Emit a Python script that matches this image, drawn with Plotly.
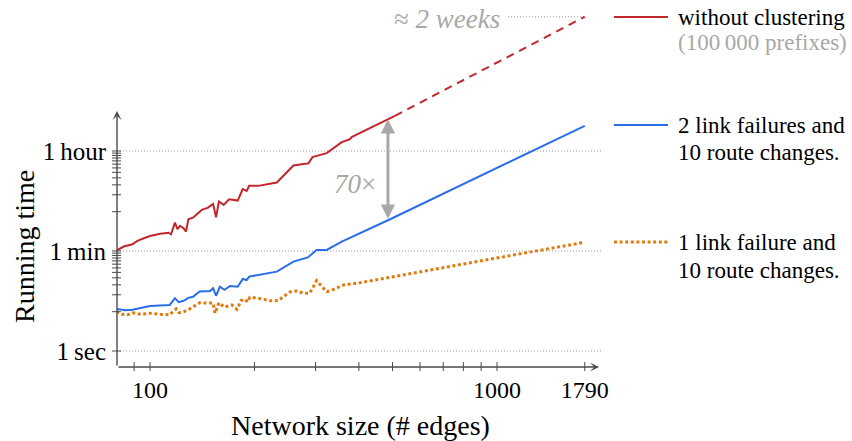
import numpy as np
import plotly.graph_objects as go

# ---------------- data ----------------
edges_red = [80, 84, 89, 92, 96, 100, 107, 113, 115, 118, 120, 122, 125, 127, 129, 133, 141, 147,
             152, 155, 158, 163, 169, 179, 185, 190, 193, 205, 232, 259, 280, 286, 294, 323, 357,
             377, 381, 508]
time_red = [61, 72, 79, 91, 101, 111, 121, 127, 119, 192, 146, 168, 152, 133, 220, 235, 323, 355,
            413, 239, 454, 396, 500, 472, 754, 703, 863, 863, 988, 1983, 2125, 2180, 2797, 3296, 5170,
            5848, 6345, 15180]
edges_red_extrap = [508, 1790]
time_red_extrap = [15180, 877000]

edges_blue = [80, 85, 89, 100, 114, 118, 121, 125, 129, 133, 139, 149, 152, 155, 159, 164, 170, 179,
              185, 190, 193, 232, 259, 285, 302, 323, 357, 403, 492, 1790]
time_blue = [5.6, 5.3, 5.4, 6.3, 6.6, 8.7, 7.4, 7.8, 8.8, 9.2, 11.4, 11.7, 13.1, 9.6, 13.9, 12.2, 14.3,
             13.9, 19.1, 18.3, 21, 25.8, 38.8, 46.1, 62.7, 62.7, 88, 124, 220, 10090]

edges_orange = [80, 83, 86, 89, 94, 100, 107, 114, 117, 119, 121, 125, 129, 136, 139, 152, 154, 156,
                158, 164, 172, 178, 183, 188, 191, 194, 205, 222, 234, 253, 265, 277, 288, 293, 302,
                316, 323, 330, 361, 394, 1790]
time_orange = [5.0, 4.5, 4.4, 4.8, 4.5, 4.7, 4.5, 4.4, 5.2, 5.6, 4.8, 5.0, 5.4, 6.6, 7.2, 7.1, 4.7, 5.8,
               7.2, 6.0, 6.6, 5.5, 7.9, 8.3, 7.4, 9.0, 8.7, 7.8, 7.9, 11.2, 11.7, 10.6, 10.6, 12.5,
               17.8, 13.1, 11.4, 11.7, 14.9, 16.0, 86]

y_major_vals = [1, 60, 3600]
y_major_text = ["1\u2009sec", "1\u2009min", "1\u2009hour"]
y_minor_vals = [5, 10, 15, 20, 25, 30, 35, 40, 45, 50, 55,
                300, 600, 900, 1200, 1500, 1800, 2100, 2400, 2700, 3000, 3300]
x_major_vals = [100, 1000, 1790]
x_major_text = ["100", "1000", "1790"]
x_minor_vals = [90, 200, 300, 400, 500, 600, 700, 800, 900]

two_weeks_from = 1076          # start of the "≈ 2 weeks" reference line (edges)
arrow_at_edges = 485           # where the 70x arrow is drawn

legend_labels = [
    ("without clustering", "(100\u2009000 prefixes)"),
    ("2 link failures and", "10 route changes."),
    ("1 link failure and", "10 route changes."),
]

# ---------------- style ----------------
RED = "#c1272d"
BLUE = "#2b6de9"
ORANGE = "#e07b10"
GREY = "#a8a8a8"
AXIS = "#4a4a4a"
FONT = "'Liberation Serif', 'DejaVu Serif', serif"

W, H = 852, 441
L, R, T, B = 117, 252, 5, 74
PW, PH = W - L - R, H - T - B


def px_x(px):
    return (px - L) / PW


def px_y(py):
    return (H - B - py) / PH


fig = go.Figure()

fig.add_trace(go.Scatter(x=edges_orange, y=time_orange, mode="lines",
                         line=dict(color=ORANGE, width=3, dash="3px,2.6px"), showlegend=False))
fig.add_trace(go.Scatter(x=edges_blue, y=time_blue, mode="lines",
                         line=dict(color=BLUE, width=2), showlegend=False))
fig.add_trace(go.Scatter(x=edges_red, y=time_red, mode="lines",
                         line=dict(color=RED, width=2), showlegend=False))
fig.add_trace(go.Scatter(x=edges_red_extrap, y=time_red_extrap, mode="lines",
                         line=dict(color=RED, width=2, dash="8px,6px"), showlegend=False))

shapes = []
# grid lines
for v in y_major_vals:
    shapes.append(dict(type="line", xref="paper", x0=0, x1=1.005, yref="y", y0=v, y1=v,
                       line=dict(color="#9a9a9a", width=1, dash="1px,2px"), layer="below"))
# 2 weeks reference line
shapes.append(dict(type="line", xref="x", x0=two_weeks_from, x1=edges_red_extrap[-1], yref="y",
                   y0=time_red_extrap[-1], y1=time_red_extrap[-1],
                   line=dict(color="#9a9a9a", width=1, dash="1px,2px"), layer="below"))
# ticks crossing the axes
for v in y_major_vals + y_minor_vals:
    shapes.append(dict(type="line", xref="paper", x0=-5 / PW, x1=4 / PW, yref="y", y0=v, y1=v,
                       line=dict(color=AXIS, width=1)))
for v in x_major_vals + x_minor_vals:
    shapes.append(dict(type="line", xref="x", x0=v, x1=v, yref="paper", y0=-4 / PH, y1=5 / PH,
                       line=dict(color=AXIS, width=1)))

annotations = []
# axis lines with arrow heads
annotations.append(dict(xref="paper", yref="paper", x=px_x(599), y=0, ax=-(599 - L), ay=0,
                        text="", showarrow=True, arrowhead=3, arrowsize=1.1, arrowwidth=1.4,
                        arrowcolor=AXIS, standoff=0))
annotations.append(dict(xref="paper", yref="paper", x=0, y=px_y(111), ax=0, ay=(H - B - 111),
                        text="", showarrow=True, arrowhead=3, arrowsize=1.1, arrowwidth=1.4,
                        arrowcolor=AXIS, standoff=0))

# 70x arrow between red and blue at arrow_at_edges (log interpolation of the series)
lx = np.log10(arrow_at_edges)
top = np.interp(lx, np.log10(edges_red), np.log10(time_red))
bot = np.interp(lx, np.log10(edges_blue), np.log10(time_blue))
annotations.append(dict(xref="x", yref="y", axref="x", ayref="y", x=lx, y=top, ax=lx, ay=bot,
                        text="", showarrow=True, arrowhead=2, arrowside="end+start",
                        arrowsize=0.95, arrowwidth=3, arrowcolor=GREY, standoff=0, startstandoff=0))
annotations.append(dict(xref="x", yref="y", x=lx, y=(top + bot) / 2, xanchor="right", yanchor="middle",
                        xshift=-10, yshift=-14, text="<i>70</i>\u00d7", showarrow=False,
                        font=dict(family=FONT, size=27, color=GREY)))
# ≈ 2 weeks
annotations.append(dict(xref="x", yref="y", x=np.log10(two_weeks_from), y=np.log10(time_red_extrap[-1]),
                        xanchor="right", yanchor="middle", xshift=-6, yshift=-2,
                        text="\u2248 <i>2 weeks</i>", showarrow=False,
                        font=dict(family=FONT, size=27, color=GREY)))

# axis titles
annotations.append(dict(xref="paper", yref="paper", x=px_x(360), y=px_y(425), text="Network size (# edges)",
                        showarrow=False, xanchor="center", yanchor="middle",
                        font=dict(family=FONT, size=28, color="black")))
annotations.append(dict(xref="paper", yref="paper", x=px_x(25), y=px_y(247), text="Running time",
                        showarrow=False, xanchor="center", yanchor="middle", textangle=-90,
                        font=dict(family=FONT, size=28, color="black")))

# legend (hand-placed)
legend_rows = [(17, 43, RED, None, "black", GREY),
               (125, 152, BLUE, None, "black", "black"),
               (242, 270, ORANGE, "3px,2.6px", "black", "black")]
for (y1, y2, col, dash, c1, c2), (t1, t2) in zip(legend_rows, legend_labels):
    ld = dict(color=col, width=3 if dash else 2)
    if dash:
        ld["dash"] = dash
    shapes.append(dict(type="line", xref="paper", yref="paper", x0=px_x(614), x1=px_x(668),
                       y0=px_y(y1), y1=px_y(y1), line=ld))
    annotations.append(dict(xref="paper", yref="paper", x=px_x(676), y=px_y(y1), text=t1,
                            showarrow=False, xanchor="left", yanchor="middle",
                            font=dict(family=FONT, size=23, color=c1)))
    annotations.append(dict(xref="paper", yref="paper", x=px_x(676), y=px_y(y2), text=t2,
                            showarrow=False, xanchor="left", yanchor="middle",
                            font=dict(family=FONT, size=23, color=c2)))

fig.update_layout(
    width=W, height=H,
    margin=dict(l=L, r=R, t=T, b=B, pad=0),
    paper_bgcolor="white", plot_bgcolor="white",
    showlegend=False,
    shapes=shapes, annotations=annotations,
    font=dict(family=FONT, color="black"),
    xaxis=dict(type="log", range=[1.9049, 3.2968], showgrid=False, zeroline=False, showline=False,
               tickvals=x_major_vals, ticktext=x_major_text, ticks="", ticklabelstandoff=6,
               tickfont=dict(family=FONT, size=24, color="black")),
    yaxis=dict(type="log", range=[-0.2845, 6.152], showgrid=False, zeroline=False, showline=False,
               tickvals=y_major_vals, ticktext=y_major_text, ticks="", ticklabelstandoff=10,
               tickfont=dict(family=FONT, size=25, color="black")),
)

fig.write_html("out.html")
